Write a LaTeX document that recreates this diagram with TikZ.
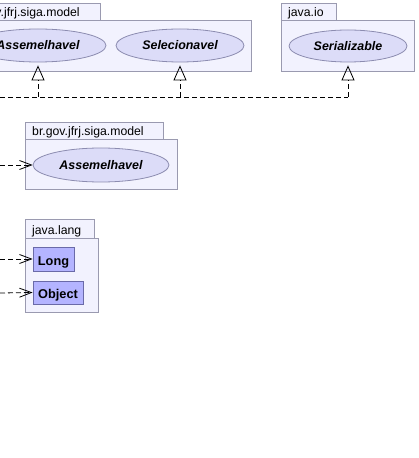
\documentclass[tikz,border=0pt]{standalone}
\usepackage{fontspec}
\setmainfont{Liberation Sans}
\usetikzlibrary{arrows.meta,shapes.geometric}
\definecolor{pkgfill}{HTML}{F2F2FE}
\definecolor{pkgdraw}{HTML}{9A9AB0}
\definecolor{ellfill}{HTML}{DCDCF8}
\definecolor{elldraw}{HTML}{8C8CB0}
\definecolor{boxfill}{HTML}{B4B4FF}
\definecolor{boxdraw}{HTML}{6A6AA8}
\begin{document}
\begin{tikzpicture}[x=1bp,y=-1bp,
  pkg/.style={draw=pkgdraw,fill=pkgfill,line width=0.8bp},
  pkglabel/.style={anchor=west,inner sep=0pt,text height=11bp,text depth=0pt,font=\fontsize{12.3}{14}\selectfont},
  iface/.style={ellipse,draw=elldraw,fill=ellfill,line width=0.8bp,inner sep=0pt,font=\fontsize{12.5}{14}\selectfont\bfseries\itshape},
  cls/.style={rectangle,draw=boxdraw,fill=boxfill,line width=0.8bp,inner sep=0pt,text height=12bp,text depth=0pt,font=\fontsize{12.8}{14}\selectfont\bfseries},
  realize/.style={dash pattern=on 5bp off 3bp,line width=0.8bp,-{Triangle[open,width=13bp,length=15bp]},shorten >=3bp},
  depend/.style={dash pattern=on 5bp off 3bp,line width=0.8bp,-{Straight Barb[width=9bp,length=12bp]}},
  plain/.style={dash pattern=on 5bp off 3bp,line width=0.8bp}
]
\useasboundingbox (0,0) rectangle (418,458);
\clip (0,0) rectangle (418,458);
\fill[white] (0,0) rectangle (418,458);
% package 1
\draw[pkg] (-39,3) rectangle (100,20);
\draw[pkg] (-39,20) rectangle (251,71);
\node[pkglabel] (p1lab) at (-32,11.5) {br.gov.jfrj.siga.model};
% package 2
\draw[pkg] (281,3) rectangle (336,20);
\draw[pkg] (281,20) rectangle (414,71);
\node[pkglabel] (p2lab) at (288,11.5) {java.io};
% package 3
\draw[pkg] (25,122) rectangle (163,139);
\draw[pkg] (25,139) rectangle (177,189);
\node[pkglabel] (p3lab) at (32,130.5) {br.gov.jfrj.siga.model};
% package 4
\draw[pkg] (25,219) rectangle (94,238);
\draw[pkg] (25,238) rectangle (98,312);
\node[pkglabel] (p4lab) at (32,228.5) {java.lang};
% interfaces
\node[iface,minimum width=136bp,minimum height=33bp] (a1) at (38,45.5) {Assemelhavel};
\node[iface,minimum width=128bp,minimum height=33bp] (sel) at (180,45.5) {Selecionavel};
\node[iface,minimum width=118bp,minimum height=32bp] (ser) at (348,46) {Serializable};
\node[iface,minimum width=136bp,minimum height=34bp] (a2) at (101,165) {Assemelhavel};
% classes
\node[cls,minimum width=41bp,minimum height=24bp] (long) at (53.5,259) {Long};
\node[cls,minimum width=50bp,minimum height=23bp] (obj) at (58,292.5) {Object};
% connectors
\coordinate (l0) at (0,97);
\coordinate (j1) at (38,97);
\coordinate (j2) at (180,97);
\coordinate (j3) at (348,97);
\draw[plain] (l0) -- (j3);
\draw[realize] (j1) -- (a1.south);
\draw[realize] (j2) -- (sel.south);
\draw[realize] (j3) -- (ser.south);
\coordinate (d1) at (0,165);
\coordinate (d2) at (0,259);
\coordinate (d3) at (0,293);
\draw[depend] (d1) -- (a2.west);
\draw[depend] (d2) -- (long.west);
\draw[depend] (d3) -- (obj.west);
\end{tikzpicture}
\end{document}
